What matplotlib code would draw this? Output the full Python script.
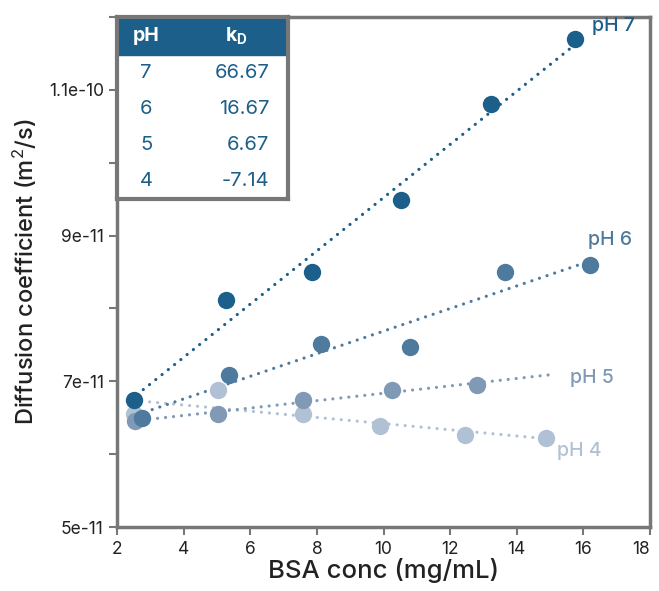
import numpy as np
import matplotlib
matplotlib.use("Agg")
import matplotlib.pyplot as plt

plt.rcParams['font.family'] = ['Inter', 'DejaVu Sans']
plt.rcParams['mathtext.fontset'] = 'custom'
plt.rcParams['mathtext.rm'] = 'Inter'
plt.rcParams['mathtext.it'] = 'Inter'
plt.rcParams['mathtext.bf'] = 'Inter:bold'

# ---- data ----
ph_labels = ["pH 7", "pH 6", "pH 5", "pH 4"]
x_ph7 = [2.52, 5.28, 7.84, 10.53, 13.24, 15.74]
y_ph7 = [6.74e-11, 8.12e-11, 8.50e-11, 9.49e-11, 1.080e-10, 1.170e-10]
x_ph6 = [2.76, 5.36, 8.13, 10.80, 13.65, 16.20]
y_ph6 = [6.50e-11, 7.08e-11, 7.51e-11, 7.47e-11, 8.50e-11, 8.59e-11]
x_ph5 = [2.54, 5.02, 7.59, 10.26, 12.82]
y_ph5 = [6.46e-11, 6.55e-11, 6.74e-11, 6.88e-11, 6.95e-11]
x_ph4 = [2.52, 5.02, 7.59, 9.90, 12.46, 14.88]
y_ph4 = [6.55e-11, 6.88e-11, 6.55e-11, 6.38e-11, 6.26e-11, 6.22e-11]
fit_range_ph7 = [2.6, 15.7]
fit_range_ph6 = [2.6, 16.2]
fit_range_ph5 = [2.5, 15.15]
fit_range_ph4 = [2.5, 14.9]

table_ph = ["7", "6", "5", "4"]
table_kd = ["66.67", "16.67", "6.67", "-7.14"]

colors = ["#1b5f8a", "#4e7a9e", "#8099b5", "#b1c1d5"]

series = [
    (x_ph7, y_ph7, fit_range_ph7),
    (x_ph6, y_ph6, fit_range_ph6),
    (x_ph5, y_ph5, fit_range_ph5),
    (x_ph4, y_ph4, fit_range_ph4),
]

fig = plt.figure(figsize=(6.59, 5.91), dpi=100)
ax = fig.add_axes([117/659, 1-527/591, (650-117)/659, (527-17)/591])

for (xs, ys, fr), col, lab in reversed(list(zip(series, colors, ph_labels))):
    m, b = np.polyfit(xs, ys, 1)
    xf = np.array(fr)
    ax.plot(xf, m*xf + b, color=col, lw=2.3, linestyle=(0, (0.01, 2.5)),
            dash_capstyle='round', zorder=2)
    ax.plot(xs, ys, 'o', color=col, markersize=12.5, markeredgewidth=0, zorder=3)

# series labels
lab_pos = [(16.25, 1.188e-10), (16.15, 8.94e-11), (15.6, 7.05e-11), (15.2, 6.05e-11)]
for lab, col, (lx, ly) in zip(ph_labels, colors, lab_pos):
    ax.text(lx, ly, lab, color=col, fontsize=14, ha='left', va='center',
            fontweight='medium')

ax.set_xlim(2, 18)
ax.set_ylim(5e-11, 1.2e-10)
ax.set_xticks(np.arange(2, 19, 2))
ax.set_yticks(np.arange(5, 13) * 1e-11)
ax.set_yticklabels(["5e-11", "", "7e-11", "", "9e-11", "", "1.1e-10", ""])
ax.tick_params(axis='both', colors='#777777', labelcolor='#222222', labelsize=12.5,
               length=6, width=1.5, direction='out')
ax.tick_params(axis='x', pad=4)
for s in ax.spines.values():
    s.set_color('#777777')
    s.set_linewidth(2.5)
xt = ax.get_xticklabels()
xt[-1].set_horizontalalignment('right')
xt[-1].set_x(18)

ax.set_xlabel("BSA conc (mg/mL)", fontsize=18.5, color='#222222', labelpad=0,
              fontweight='medium')
ax.set_ylabel("Diffusion coefficient (m$^{2}$/s)", fontsize=17, color='#222222',
              labelpad=7, fontweight='medium')

# ---- table inset ----
tx0, tx1 = 117/659, 288/659
ty1, ty0 = 1-17/591, 1-199/591
hdr_bot = 1-55/591
tab_ax = fig.add_axes([tx0, ty0, tx1-tx0, ty1-ty0])
tab_ax.set_xlim(0, 1)
tab_ax.set_ylim(0, 1)
tab_ax.set_xticks([])
tab_ax.set_yticks([])
for s in tab_ax.spines.values():
    s.set_color('#777777')
    s.set_linewidth(3)
hfrac = (hdr_bot - ty0) / (ty1 - ty0)
tab_ax.axhspan(hfrac, 1, color=colors[0], zorder=0)
tab_ax.text(0.17, (1+hfrac)/2, "pH", color='white', fontsize=14, fontweight='bold',
            ha='center', va='center')
tab_ax.text(0.70, (1+hfrac)/2, "k$_\\mathbf{D}$", color='white', fontsize=14,
            fontweight='bold', ha='center', va='center')
row_h = hfrac / 4
for i, (p, k) in enumerate(zip(table_ph, table_kd)):
    yc = hfrac - row_h*(i+0.5)
    tab_ax.text(0.17, yc, p, color=colors[0], fontsize=14.5, ha='center', va='center')
    tab_ax.text(0.89, yc, k, color=colors[0], fontsize=14.5, ha='right', va='center')

fig.savefig("out.png", dpi=100)
